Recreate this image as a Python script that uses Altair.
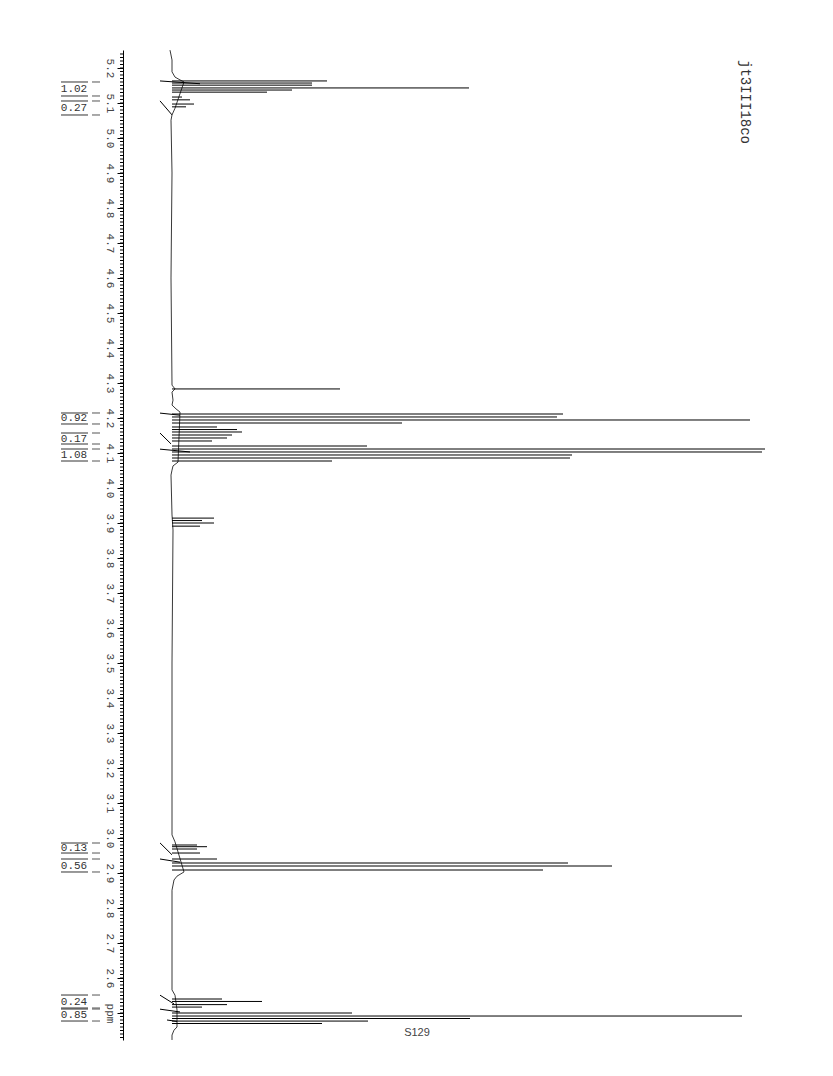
import altair as alt
import pandas as pd

# ---------------- data ----------------
# peak lines (chemical shift in ppm, intensity in arbitrary units)
peak_ppm = [5.163, 5.157, 5.151, 5.143, 5.137, 5.131, 5.117, 5.109, 5.097, 5.089,
            4.283,
            4.2114, 4.2029, 4.1943, 4.1857, 4.1743, 4.167, 4.160, 4.1514, 4.1429, 4.1343,
            4.120, 4.1114, 4.1029, 4.0943, 4.0857, 4.0771,
            3.914, 3.907, 3.900, 3.891,
            2.980, 2.9752, 2.9686, 2.9571, 2.940, 2.9286, 2.920, 2.9086,
            2.540, 2.533, 2.524, 2.517,
            2.500, 2.4914, 2.4843, 2.477, 2.470]
peak_int = [155, 140, 140, 297, 120, 95, 10, 18, 22, 14,
            168,
            391, 385, 578, 230, 45, 65, 70, 60, 55, 40,
            195, 593, 590, 400, 398, 160,
            42, 30, 42, 28,
            25, 35, 25, 28, 45, 396, 440, 371,
            50, 90, 55, 30,
            180, 570, 298, 196, 150]

# baseline trace
base_ppm = [5.251, 5.223, 5.189, 5.174, 5.166, 5.160,
            5.085, 5.066, 5.051, 4.90, 4.60, 4.294, 4.283, 4.274, 4.251, 4.237, 4.226, 4.217,
            4.074, 4.063, 4.051, 4.037, 3.923, 3.880, 3.50, 3.009, 2.989,
            2.903, 2.891, 2.880, 2.851, 2.566, 2.551, 2.509,
            2.460, 2.451, 2.437, 2.423]
base_int = [-2, 0, 0, 3, 8, 12,
            3, 0, -1, 0, -1, 0, 3, 0, 1, 0, 4, 8,
            6, 1, 0, -1, 0, 1, 0, 0, 3,
            12, 5, 2, 0, 0, 3, 5,
            5, 2, 0, 0]

# integral traces (start/end points)
integ_ppm1 = [5.163, 5.106, 4.214, 4.157, 4.111, 2.986, 2.940, 2.551, 2.511, 2.480]
integ_int1 = [-12, -12, -12, -12, -12, -12, -12, -12, -12, -5]
integ_ppm2 = [5.155, 5.066, 4.208, 4.126, 4.103, 2.952, 2.931, 2.526, 2.503, 2.476]
integ_int2 = [28, 0, 8, -1, 18, 0, 8, 2, 8, 5]

# integration values with their region limits (ppm)
int_labels = ["1.02", "0.27", "0.92", "0.17", "1.08", "0.13", "0.56", "0.24", "0.85"]
int_top = [5.160, 5.1057, 4.2143, 4.1571, 4.1114, 2.9857, 2.9400, 2.5514, 2.5114]
int_bot = [5.120, 5.0657, 4.1829, 4.1257, 4.0771, 2.9571, 2.9029, 2.5143, 2.4771]

tick_labels_ppm = [5.2, 5.1, 5.0, 4.9, 4.8, 4.7, 4.6, 4.5, 4.4, 4.3, 4.2, 4.1, 4.0,
                   3.9, 3.8, 3.7, 3.6, 3.5, 3.4, 3.3, 3.2, 3.1, 3.0, 2.9, 2.8, 2.7, 2.6, 2.5]
minor_ticks = [round(2.43 + i * 0.01, 2) for i in range(0, 282)]

title_text = "jt3III18co"
footer_text = "S129"

# ---------------- chart ----------------
yscale = alt.Scale(domain=[2.4229, 5.2514], nice=False, zero=False)
xscale = alt.Scale(domain=[-49, 618], nice=False, zero=False)

peaks = pd.DataFrame({"ppm": peak_ppm, "int": peak_int, "zero": [0] * len(peak_ppm)})
base = pd.DataFrame({"ppm": base_ppm, "int": base_int, "order": list(range(len(base_ppm)))})
integ = pd.DataFrame({"ppm": integ_ppm1, "int": integ_int1, "ppm2": integ_ppm2, "int2": integ_int2})
labs = pd.DataFrame({"label": int_labels, "top": int_top, "bot": int_bot,
                     "ppm": [(a + b) / 2 for a, b in zip(int_top, int_bot)]})
lines = pd.DataFrame({"ppm": int_top + int_bot})
minor = pd.DataFrame({"ppm": minor_ticks})

Y = alt.Y("ppm:Q", scale=yscale,
          axis=alt.Axis(values=tick_labels_ppm, orient="left", grid=False,
                        domain=True, domainColor="black", domainWidth=1,
                        ticks=True, tickColor="black", tickSize=6, tickWidth=1,
                        labelAngle=90, labelAlign="center", labelBaseline="middle",
                        labelPadding=8, labelFont="Liberation Mono", labelFontSize=11,
                        labelColor="#444", title=None, labelOverlap=False,
                        labelExpr="datum.value < 2.55 ? 'ppm' : format(datum.value, '.1f')"))

axis_layer = alt.Chart(minor).mark_rule(color="black", strokeWidth=1).encode(
    y=Y, x=alt.value(-3), x2=alt.value(0),
)

baseline = alt.Chart(base).mark_line(color="#222", strokeWidth=0.9).encode(
    y=Y,
    x=alt.X("int:Q", scale=xscale, axis=None),
    order="order:Q",
)

peak_layer = alt.Chart(peaks).mark_rule(color="black", strokeWidth=1).encode(
    y=Y,
    x=alt.X("zero:Q", scale=xscale, axis=None),
    x2="int:Q",
)

integ_layer = alt.Chart(integ).mark_rule(color="black", strokeWidth=1).encode(
    y=Y,
    y2="ppm2:Q",
    x=alt.X("int:Q", scale=xscale, axis=None),
    x2="int2:Q",
)

lab_lines = alt.Chart(lines).mark_rule(color="#333", strokeWidth=1).encode(
    y=Y, x=alt.value(-62), x2=alt.value(-35),
)
lab_dash = alt.Chart(lines).mark_rule(color="#555", strokeWidth=1).encode(
    y=Y, x=alt.value(-31), x2=alt.value(-23),
)
lab_text = alt.Chart(labs).mark_text(font="Liberation Mono", fontSize=11, color="#333",
                                     align="center", baseline="middle").encode(
    y=Y, x=alt.value(-49), text="label:N",
)

title_layer = alt.Chart(pd.DataFrame({"t": [title_text]})).mark_text(
    font="Liberation Mono", fontSize=14, color="#333", angle=90,
    align="center", baseline="middle").encode(
    text="t:N", x=alt.value(622), y=alt.value(52))

footer_layer = alt.Chart(pd.DataFrame({"t": [footer_text]})).mark_text(
    font="Liberation Sans", fontSize=11, color="#444",
    align="center", baseline="middle").encode(
    text="t:N", x=alt.value(294), y=alt.value(983))

chart = alt.layer(axis_layer, baseline, peak_layer, integ_layer, lab_lines, lab_dash,
                  lab_text, title_layer, footer_layer).properties(
    width=667, height=990,
    autosize=alt.AutoSizeParams(type="none"),
    padding={"left": 123, "top": 50, "right": 20, "bottom": 30},
    background="white",
).configure_view(stroke=None)

chart.save("out.html", embed_options={"renderer": "svg", "actions": False})
